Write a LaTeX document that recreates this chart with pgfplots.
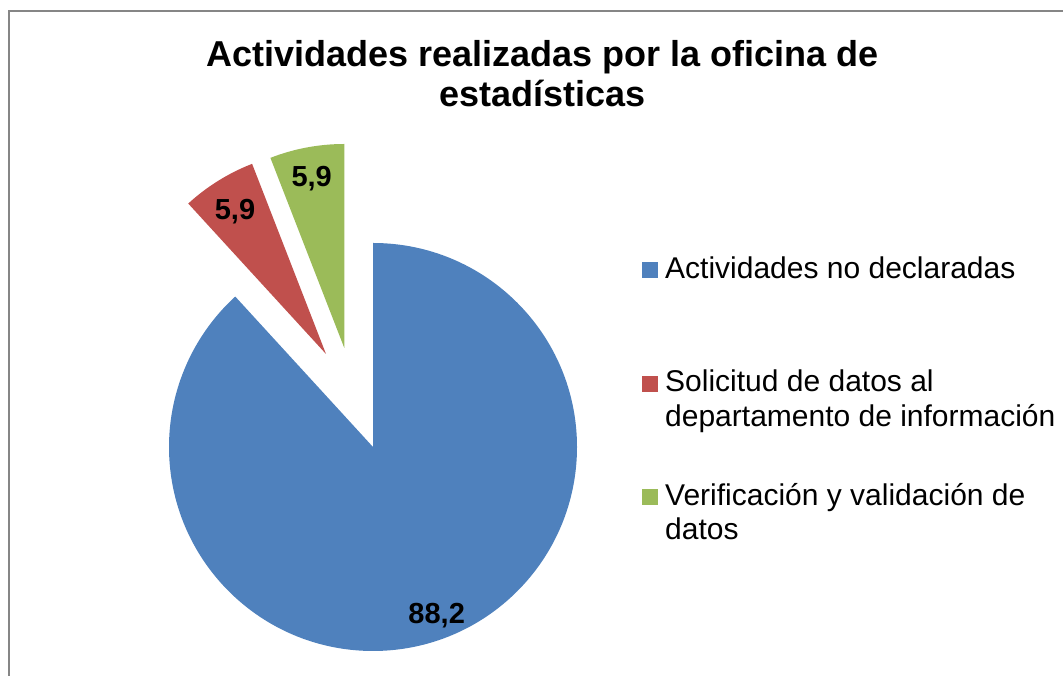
\documentclass[border=0pt]{standalone}
\usepackage{pgfplots}
\usepackage{pgfplotstable}
\pgfplotsset{compat=1.18}
\usepackage{fontspec}
\setmainfont{Liberation Sans}
\definecolor{cblue}{HTML}{4F81BD}
\definecolor{cred}{HTML}{C0504D}
\definecolor{cgreen}{HTML}{9BBB59}
\definecolor{cframe}{HTML}{868686}
\pgfplotstableread{
cat value
1 88.2
2 5.9
3 5.9
}\piedata
\begin{document}
\begin{tikzpicture}
\path[use as bounding box] (0,0) rectangle (1063pt,676pt);
\pgfplotstablegetelem{0}{value}\of\piedata \let\vA\pgfplotsretval
\pgfplotstablegetelem{1}{value}\of\piedata \let\vB\pgfplotsretval
\pgfplotstablegetelem{2}{value}\of\piedata \let\vC\pgfplotsretval
\pgfmathsetmacro{\aA}{90-3.6*\vA}
\pgfmathsetmacro{\aB}{\aA-3.6*\vB}
\pgfmathsetmacro{\aC}{\aB-3.6*\vC}
\begin{axis}[at={(0,0)},anchor=origin,scale only axis,width=1063pt,height=676pt,
  xmin=0,xmax=1063,ymin=0,ymax=676,hide axis,clip=false]
% frame (left and top edges visible)
\draw[cframe,line width=1.5pt] (axis cs:9,0) -- (axis cs:9,665) -- (axis cs:1063,665);
% slices
\fill[cblue] (axis cs:373,229) -- ++(90:204pt) arc[start angle=90,end angle=\aA,radius=204pt] -- cycle;
\fill[cred] (axis cs:326,322) -- ++(\aA:204pt) arc[start angle=\aA,end angle=\aB,radius=204pt] -- cycle;
\fill[cgreen] (axis cs:344.3,328) -- ++(\aB:204pt) arc[start angle=\aB,end angle=\aC,radius=204pt] -- cycle;
% data labels
\node[anchor=base,inner sep=0pt,font=\fontsize{29}{34}\selectfont\bfseries] at (axis cs:436.7,52.7) {88,2};
\node[anchor=base,inner sep=0pt,font=\fontsize{29}{34}\selectfont\bfseries] at (axis cs:235,456) {5,9};
\node[anchor=base,inner sep=0pt,font=\fontsize{29}{34}\selectfont\bfseries] at (axis cs:311.7,489) {5,9};
% title
\node[anchor=base,inner sep=0pt,font=\fontsize{36}{40}\selectfont\bfseries] at (axis cs:542.5,609) {Actividades realizadas por la oficina de};
\node[anchor=base,inner sep=0pt,font=\fontsize{36}{40}\selectfont\bfseries] at (axis cs:542.5,569) {estadísticas};
% legend
\fill[cblue] (axis cs:641.7,398.3) rectangle (axis cs:657.7,414.3);
\fill[cred] (axis cs:641.7,284.3) rectangle (axis cs:657.7,300.3);
\fill[cgreen] (axis cs:641.7,171) rectangle (axis cs:657.7,187);
\node[anchor=base west,inner sep=0pt,font=\fontsize{30}{35}\selectfont] at (axis cs:665,397) {Actividades no declaradas};
\node[anchor=base west,inner sep=0pt,font=\fontsize{30}{35}\selectfont] at (axis cs:665,284) {Solicitud de datos al};
\node[anchor=base west,inner sep=0pt,font=\fontsize{30}{35}\selectfont] at (axis cs:665,249) {departamento de información};
\node[anchor=base west,inner sep=0pt,font=\fontsize{30}{35}\selectfont] at (axis cs:665,170.3) {Verificación y validación de};
\node[anchor=base west,inner sep=0pt,font=\fontsize{30}{35}\selectfont] at (axis cs:665,136) {datos};
\end{axis}
\end{tikzpicture}
\end{document}
